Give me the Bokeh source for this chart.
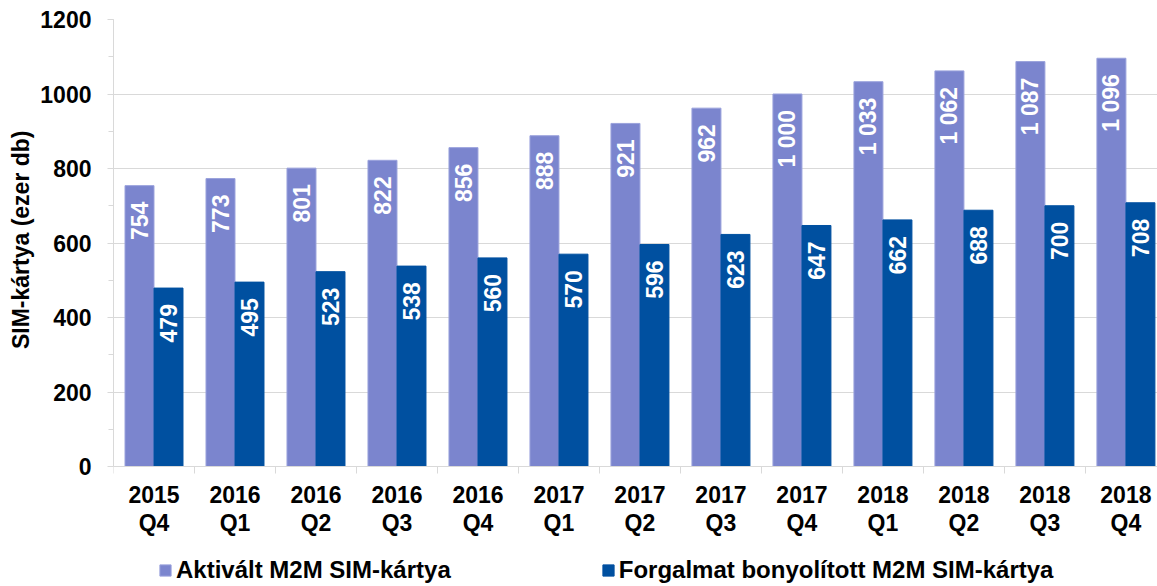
import numpy as np
from bokeh.plotting import figure
from bokeh.models import (ColumnDataSource, Range1d, FixedTicker, Legend, LegendItem,
                          LinearAxis, Title)
from bokeh.transform import dodge
from bokeh.core.properties import value
from bokeh.embed import file_html
from bokeh.resources import INLINE

years = ["2015", "2016", "2016", "2016", "2016", "2017", "2017", "2017", "2017",
         "2018", "2018", "2018", "2018"]
quarters = ["Q4", "Q1", "Q2", "Q3", "Q4", "Q1", "Q2", "Q3", "Q4",
            "Q1", "Q2", "Q3", "Q4"]
aktivalt = [754, 773, 801, 822, 856, 888, 921, 962, 1000, 1033, 1062, 1087, 1096]
forgalmat = [479, 495, 523, 538, 560, 570, 596, 623, 647, 662, 688, 700, 708]
series_names = ["Aktivált M2M SIM-kártya", "Forgalmat bonyolított M2M SIM-kártya"]
y_ticks = [0, 200, 400, 600, 800, 1000, 1200]
y_title = "SIM-kártya (ezer db)"

LIGHT = "#7B85CE"
DARK = "#0050A0"
GRID = "#D9D9D9"
FONT = "Liberation Sans"

W, H = 1157, 586
LEFT, TOP = 113, 19
PLOT_H = 447            # pixels from 0 to 1200
Y_MAX = 1200
BOTTOM_PX = H - TOP - PLOT_H   # room below the zero line for labels + legend


def fmt(v):
    return f"{v:,}".replace(",", " ")


n = len(aktivalt)
pos = np.arange(n) + 0.5
src = ColumnDataSource(dict(
    pos=pos,
    akt=aktivalt,
    forg=forgalmat,
    akt_lbl=[fmt(v) for v in aktivalt],
    forg_lbl=[fmt(v) for v in forgalmat],
))

y_start = -BOTTOM_PX * Y_MAX / PLOT_H
p = figure(width=W, height=H, x_range=Range1d(0, 12.89), y_range=Range1d(y_start, Y_MAX),
           output_backend="svg", toolbar_location=None, x_axis_location=None,
           min_border_left=LEFT, min_border_right=0, min_border_top=TOP, min_border_bottom=0)
p.outline_line_color = None
p.background_fill_color = "white"

bw = 0.358
off = 0.179
r1 = p.vbar(x=dodge("pos", -off), top="akt", width=bw, source=src,
            fill_color=LIGHT, line_color="#9AA2DC", line_width=1)
r2 = p.vbar(x=dodge("pos", off), top="forg", width=bw, source=src,
            fill_color=DARK, line_color=DARK, line_width=1)

common = dict(angle=np.pi / 2, text_align="right", text_baseline="middle",
              y_offset=16, text_color="white", text_font=value(FONT),
              text_font_style="bold", text_font_size="23px", source=src)
p.text(x=dodge("pos", -off), y="akt", text="akt_lbl", **common)
p.text(x=dodge("pos", off), y="forg", text="forg_lbl", **common)

# grid
yticker = FixedTicker(ticks=y_ticks, minor_ticks=list(range(0, 1201, 100)))
p.xgrid.grid_line_color = None
p.ygrid.ticker = yticker
p.ygrid.grid_line_color = GRID
p.ygrid.grid_line_width = 1

# y axis
p.yaxis.ticker = yticker
p.yaxis.bounds = (0, Y_MAX)
p.yaxis.axis_line_color = GRID
p.yaxis.major_tick_line_color = GRID
p.yaxis.minor_tick_line_color = GRID
p.yaxis.major_tick_in = 0
p.yaxis.major_tick_out = 6
p.yaxis.minor_tick_in = 0
p.yaxis.minor_tick_out = 5
p.yaxis.major_label_standoff = 16
p.yaxis.major_label_text_font = FONT
p.yaxis.major_label_text_font_style = "bold"
p.yaxis.major_label_text_font_size = "23px"
p.yaxis.major_label_text_color = "black"

# y axis title, centred on the 0..1200 span (not on the whole frame)
ytitle = Title(text=y_title, align="right", offset=111, vertical_align="bottom",
               standoff=8, text_font=FONT, text_font_style="bold",
               text_font_size="23px", text_color="black")
p.add_layout(ytitle, "left")

# x axis, pinned to y = 0 inside the frame
xaxis = LinearAxis(fixed_location=0,
                   ticker=FixedTicker(ticks=list(pos), minor_ticks=list(range(n + 1))))
xaxis.major_label_overrides = {float(x): f"{y}\n{q}" for x, y, q in zip(pos, years, quarters)}
xaxis.axis_line_color = GRID
xaxis.major_tick_in = 0
xaxis.major_tick_out = 0
xaxis.major_tick_line_color = None
xaxis.minor_tick_in = 0
xaxis.minor_tick_out = 7
xaxis.minor_tick_line_color = GRID
xaxis.major_label_standoff = 8
xaxis.major_label_text_font = FONT
xaxis.major_label_text_font_style = "bold"
xaxis.major_label_text_font_size = "23px"
xaxis.major_label_text_color = "black"
xaxis.major_label_text_line_height = 1.08
p.add_layout(xaxis, "below")

legend = Legend(items=[LegendItem(label=series_names[0], renderers=[r1]),
                       LegendItem(label=series_names[1], renderers=[r2])],
                orientation="horizontal", location=(45, 2),
                padding=2, margin=0, spacing=150,
                glyph_width=14, glyph_height=14, label_standoff=4,
                label_text_font=FONT, label_text_font_style="bold",
                label_text_font_size="24px", label_text_color="black",
                border_line_color=None, background_fill_alpha=0)
p.add_layout(legend)

open("out.html", "w").write(file_html(p, INLINE))
